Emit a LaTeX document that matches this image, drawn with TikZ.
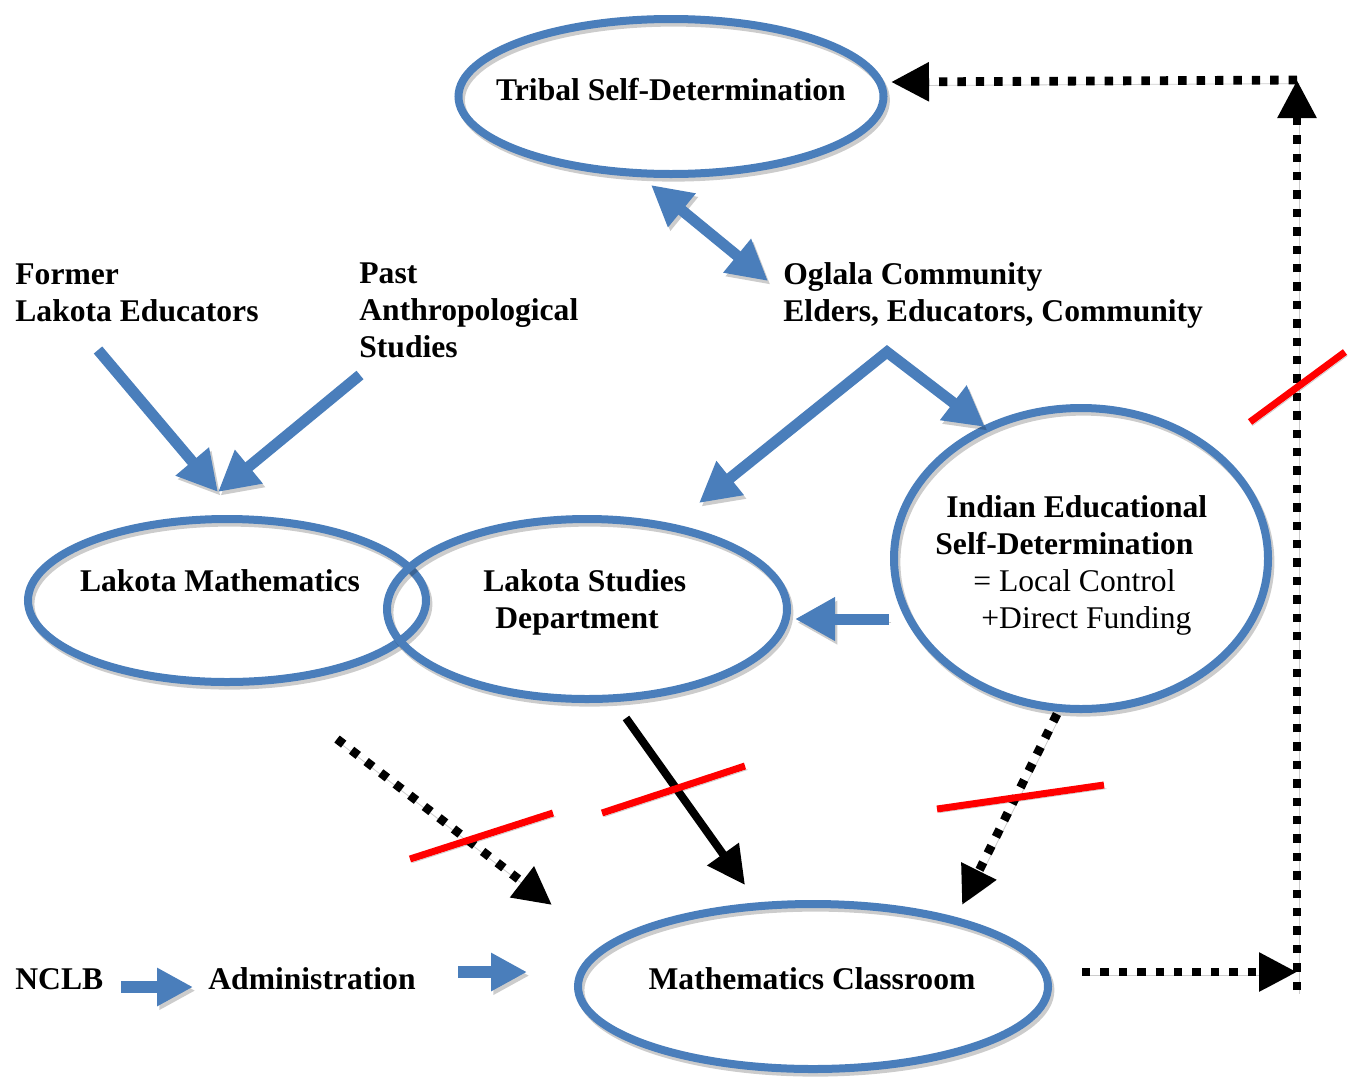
\documentclass[tikz,border=0pt]{standalone}
\usepackage{fontspec}
\setmainfont{Liberation Serif}
\usetikzlibrary{arrows.meta,shapes.geometric}
\definecolor{linkblue}{RGB}{74,126,187}
\definecolor{crossred}{RGB}{255,0,0}
\begin{document}
\begin{tikzpicture}[x=0.5pt,y=-0.5pt,
  soft/.style={preaction={draw=black, opacity=0.2, transform canvas={xshift=1.2pt,yshift=-1.8pt}}},
  ring/.style={ellipse, draw=linkblue, line width=4pt, inner sep=0pt, soft},
  lbl/.style={inner sep=0pt, font=\fontsize{15.8}{18.5}\selectfont\bfseries, align=left},
  bluetip/.style={-{Triangle[width=20.5pt,length=20pt]}},
  bluearrow/.style={draw=linkblue, line width=5.5pt, bluetip, soft},
  bluetwoway/.style={draw=linkblue, line width=5.5pt, {Triangle[width=20.5pt,length=20pt]}-{Triangle[width=20.5pt,length=20pt]}, soft},
  blockarrow/.style={draw=linkblue, line width=6pt, -{Triangle[width=18pt,length=18pt]}, soft},
  blacktip/.style={-{Triangle[width=18.5pt,length=19pt]}},
  solidarrow/.style={draw=black, line width=4pt, blacktip, soft},
  dotarrow/.style={draw=black, line width=4.4pt, dash pattern=on 4.2pt off 5pt, blacktip, soft},
  cross/.style={draw=crossred, line width=3.5pt, soft}
]
\useasboundingbox (0,0) rectangle (1354,1077);

% ---- ellipses ----
\node[ring, minimum width=212.5pt, minimum height=77.5pt] (tribal) at (671,96.5) {};
\node[ring, minimum width=199pt, minimum height=81.5pt] (lakmath) at (227,600.5) {};
\node[ring, minimum width=200pt, minimum height=90pt] (lakstud) at (587,609) {};
\node[ring, minimum width=187pt, minimum height=150.5pt] (indian) at (1081,558.5) {};
\node[ring, minimum width=235pt, minimum height=82.5pt] (classroom) at (813,986.5) {};

% ---- texts (multi-line nodes sit on the baseline of their last line) ----
\node[lbl, anchor=base] (tribal-t) at (671,100) {Tribal Self-Determination};
\node[lbl, anchor=base west] (former) at (15,321) {Former\\Lakota Educators};
\node[lbl, anchor=base west] (past) at (359,357) {Past\\Anthropological\\Studies};
\node[lbl, anchor=base west] (oglala) at (783,321) {Oglala Community\\Elders, Educators, Community};
\node[lbl, anchor=base] (lakmath-t) at (220,591) {Lakota Mathematics};
\node[lbl, anchor=base west] (lakstud-t) at (483,628) {Lakota Studies\\\hspace*{6pt}Department};
\node[lbl, anchor=base west] (indian-t) at (935,628) {\hspace*{5.5pt}Indian Educational\\Self-Determination\\\hspace*{19pt}\mdseries = Local Control\\\hspace*{23pt}\mdseries +Direct Funding};
\node[lbl, anchor=base] (classroom-t) at (812,989) {Mathematics Classroom};
\node[lbl, anchor=base west] (nclb) at (15,989) {NCLB};
\node[lbl, anchor=base west] (admin) at (208,989) {Administration};

% ---- connector end points ----
\coordinate (former-out) at (98,350);
\coordinate (past-out) at (360,375);
\coordinate (lakmath-in) at (218,492);
\coordinate (tribal-in) at (651,185);
\coordinate (oglala-in) at (768,281);
\coordinate (oglala-fork) at (887,352);
\coordinate (lakstud-top) at (699,503);
\coordinate (indian-top) at (985,427);
\coordinate (indian-out) at (889,619);
\coordinate (lakstud-in) at (795,619);
\coordinate (nclb-out) at (121,987);
\coordinate (admin-in) at (193,987);
\coordinate (admin-out) at (458,972);
\coordinate (classroom-left) at (527,972);
\coordinate (lakmath-down) at (337,739);
\coordinate (classroom-nw) at (552,905);
\coordinate (lakstud-down) at (626,718);
\coordinate (classroom-n) at (745,885);
\coordinate (indian-down) at (1057,714);
\coordinate (classroom-ne) at (962,905);
\coordinate (classroom-out) at (1082,972);
\coordinate (corner-low) at (1297,972);
\coordinate (corner-base) at (1297,990);
\coordinate (corner-high) at (1297,80);
\coordinate (tribal-right) at (891,82);

% ---- blue influences ----
\draw[bluearrow] (former-out) -- (lakmath-in);
\draw[bluearrow] (past-out) -- (lakmath-in);
\draw[bluetwoway] (tribal-in) -- (oglala-in);
\draw[bluetwoway] (lakstud-top) -- (oglala-fork) -- (indian-top);
\draw[bluearrow] (indian-out) -- (lakstud-in);
\draw[blockarrow] (nclb-out) -- (admin-in);
\draw[blockarrow] (admin-out) -- (classroom-left);

% ---- black links into and out of the classroom ----
\draw[dotarrow] (lakmath-down) -- (classroom-nw);
\draw[solidarrow] (lakstud-down) -- (classroom-n);
\draw[dotarrow] (indian-down) -- (classroom-ne);
\draw[dotarrow] (classroom-out) -- (corner-low);
\draw[dotarrow] (corner-base) -- (corner-high);
\draw[dotarrow] (corner-high) -- (tribal-right);

% ---- red strike marks ----
\draw[cross] (410,859) -- (553,813);
\draw[cross] (602,813) -- (745,766);
\draw[cross] (937,809) -- (1104,785);
\draw[cross] (1250,422) -- (1345,352);
\end{tikzpicture}
\end{document}
